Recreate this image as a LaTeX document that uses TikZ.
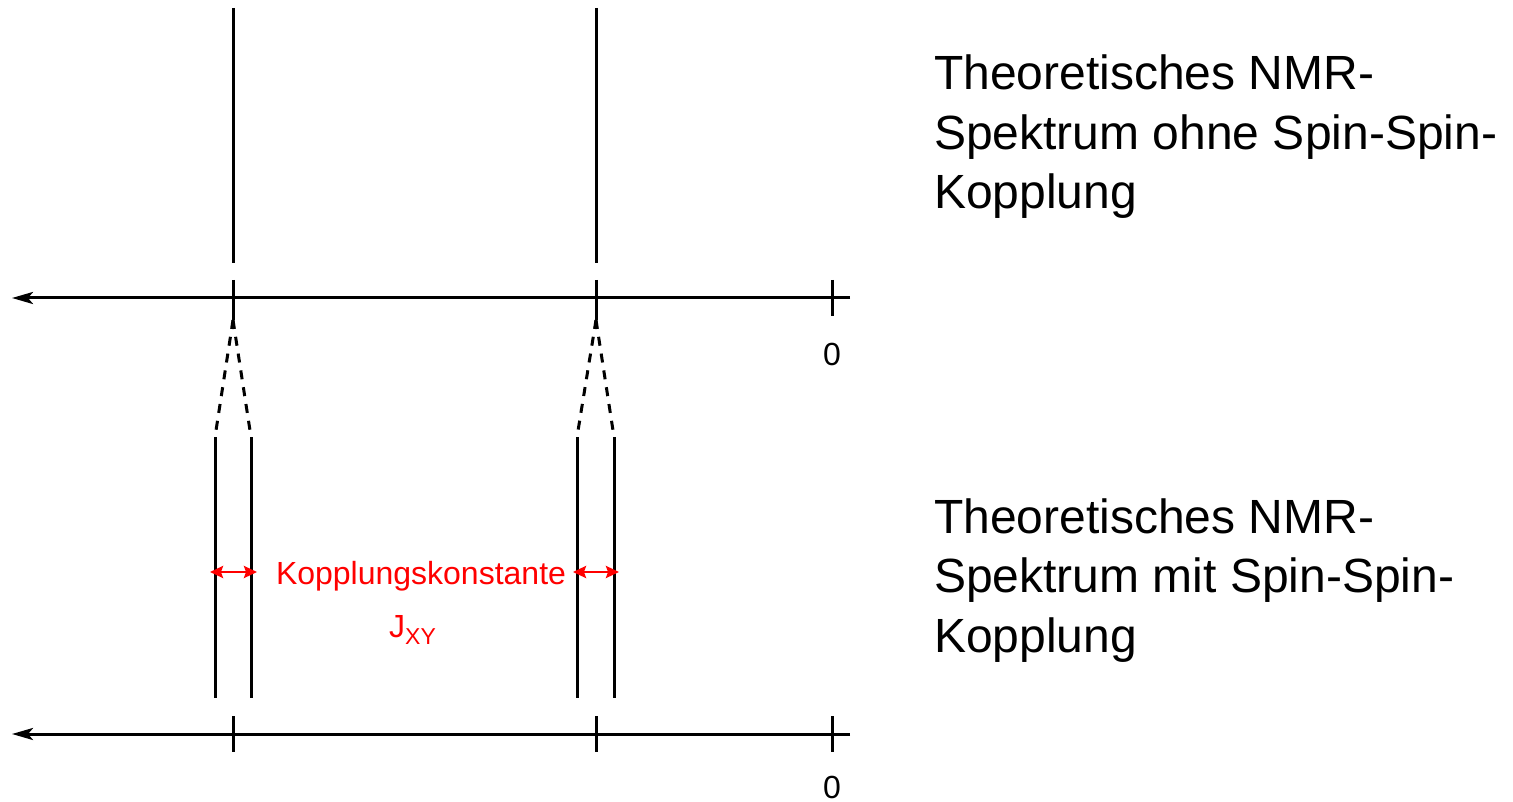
\documentclass[tikz,border=0pt]{standalone}
\usepackage{fontspec}
\setmainfont{Liberation Sans}
\usetikzlibrary{arrows.meta}
\begin{document}
\begin{tikzpicture}[x=1pt,y=-1pt,
  peak/.style={line width=3pt},
  axisline/.style={line width=3pt, -{Stealth[length=21pt,width=12pt,inset=5pt]}},
  dashline/.style={line width=3pt, dash pattern=on 9pt off 8pt},
  redarrow/.style={red, line width=2.6pt, {Stealth[length=13pt,width=12pt,inset=2pt]}-{Stealth[length=13pt,width=12pt,inset=2pt]}},
  bigtext/.style={font=\fontsize{48}{59.5}\selectfont, align=left, anchor=base west, inner sep=0pt},
  zerolab/.style={font=\fontsize{32}{32}\selectfont, inner sep=0pt},
  redlab/.style={font=\fontsize{32}{32}\selectfont, text=red, inner sep=0pt}
]
\useasboundingbox (0,0) rectangle (1513,802);
% coordinates
\coordinate (axR1) at (850,298);
\coordinate (axL1) at (12,298);
\coordinate (axR2) at (850,734);
\coordinate (axL2) at (12,734);
% upper spectrum
\draw[axisline] (axR1) -- (axL1);
\foreach \x/\n in {233/a,596/b}{
  \coordinate (top\n) at (\x,8);
  \coordinate (bot\n) at (\x,263);
  \coordinate (tt\n) at (\x,280);
  \coordinate (tb\n) at (\x,320);
  \draw[peak] (top\n) -- (bot\n);
  \draw[peak] (tt\n) -- (tb\n);
}
\draw[peak] (832,280) coordinate (z1t) -- (832,316) coordinate (z1b);
\node[zerolab] (zero1) at (832,354) {0};
% dashed splitting
\coordinate (la) at (215,437);
\coordinate (ra) at (251,437);
\coordinate (lb) at (577,437);
\coordinate (rb) at (614,437);
\draw[dashline] (tba) -- (la);
\draw[dashline] (tba) -- (ra);
\draw[dashline] (tbb) -- (lb);
\draw[dashline] (tbb) -- (rb);
% doublet lines
\foreach \n/\x in {la/215,ra/251,lb/577,rb/614}{
  \draw[peak] (\n) -- (\x,698);
}
% lower axis
\draw[axisline] (axR2) -- (axL2);
\foreach \x in {233,596,832}{
  \draw[peak] (\x,716) -- (\x,752);
}
\node[zerolab] (zero2) at (832,787) {0};
% coupling constant
\coordinate (ja1) at (210,572);
\coordinate (ja2) at (257,572);
\coordinate (jb1) at (573,572);
\coordinate (jb2) at (619,572);
\draw[redarrow] (ja1) -- (ja2);
\draw[redarrow] (jb1) -- (jb2);
\node[redlab, anchor=base] (kk) at (421,584) {Kopplungskonstante};
\node[redlab, anchor=base west] (jxy) at (389,637) {J\raisebox{-7pt}{\fontsize{23}{23}\selectfont XY}};
% texts
\node[bigtext] (t1) at (934,209) {Theoretisches NMR-\\Spektrum ohne Spin-Spin-\\Kopplung};
\node[bigtext] (t2) at (934,652) {Theoretisches NMR-\\Spektrum mit Spin-Spin-\\Kopplung};
\end{tikzpicture}
\end{document}
